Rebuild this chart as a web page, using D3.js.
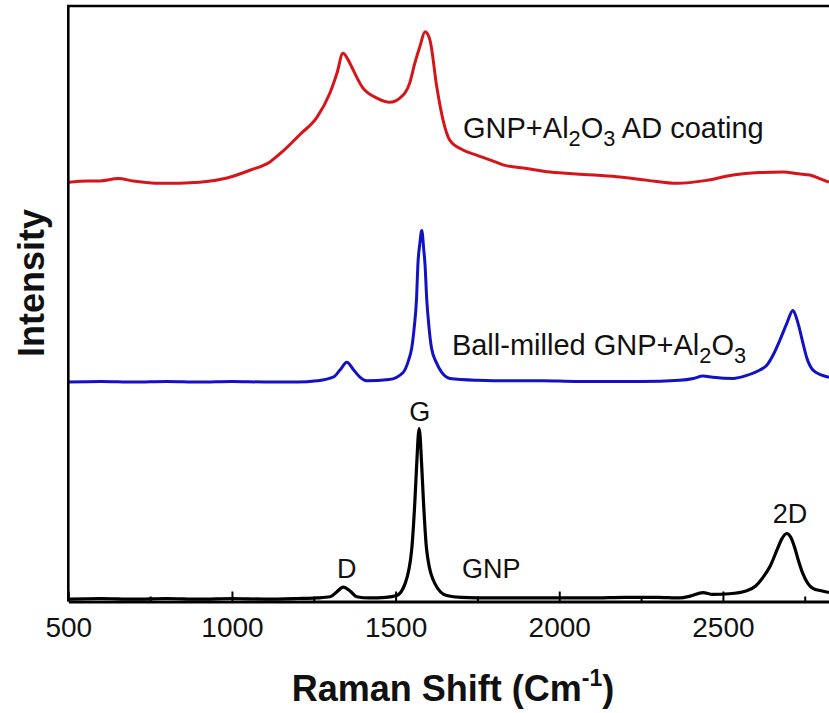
<!DOCTYPE html>
<html><head><meta charset="utf-8">
<script src="https://cdn.jsdelivr.net/npm/d3@7"></script>
<style>body{margin:0;background:#fff}svg{display:block}text{font-family:Arial,"Liberation Sans",sans-serif}</style>
</head><body><svg id="c" width="829" height="713"></svg>
<script>
// ---- data (Raman shift in cm^-1, intensity in arbitrary offset units) ----
const xTicks = [500, 1000, 1500, 2000, 2500];
const xMinorTicks = [750, 1250, 1750, 2250, 2750];

const gnpShift = [500,600,700,800,900,1000,1100,1200,1260,1300,1320,1340,1360,1381,1420,1470,1503,1529,1549,1559,1564,1572,1580,1585,1595,1620,1656,1700,1800,1900,2000,2100,2200,2300,2368,2400,2439,2469,2520,2573,2600,2622,2645,2665,2680,2695,2707,2719,2730,2744,2760,2775,2800,2824];
const gnpInt   = [0.4,0.5,0.4,0.5,0.4,0.5,0.4,0.5,0.6,0.8,1.6,2.4,1.8,0.8,0.6,0.7,1.0,3.0,8.6,16.9,22.5,29.0,22.5,16.9,8.6,3.0,1.0,0.7,0.6,0.6,0.6,0.6,0.7,0.7,0.6,0.9,1.5,1.2,1.3,1.8,2.6,4.0,6.0,8.6,10.5,11.4,10.8,9.1,7.0,4.7,3.0,2.2,1.8,1.5];

const bmShift = [500,600,700,800,900,1000,1100,1200,1260,1309,1330,1351,1372,1391,1412,1480,1523,1540,1549,1557,1564,1568,1574,1580,1586,1590,1595,1602,1610,1625,1641,1666,1750,1850,1950,2050,2150,2250,2368,2410,2439,2469,2531,2573,2613,2634,2655,2674,2695,2714,2725,2735,2746,2756,2775,2800,2824];
const bmInt   = [36.8,36.9,36.8,36.9,36.8,36.9,36.8,36.8,37.0,37.6,38.8,40.1,38.8,37.6,37.0,37.2,38.4,40.5,42.4,46.0,50.8,56.4,60.0,62.2,59.0,56.4,50.8,46.0,42.4,40.0,38.4,37.4,37.1,37.0,37.0,36.9,36.9,36.9,37.1,37.4,37.8,37.6,37.4,37.9,38.8,39.6,41.5,43.8,46.6,48.8,47.5,45.5,43.0,40.9,38.8,38.0,37.6];

const adShift = [500,560,597,652,698,780,902,985,1055,1116,1156,1208,1260,1299,1321,1339,1355,1366,1400,1443,1482,1513,1543,1559,1574,1590,1605,1626,1645,1666,1706,1749,1790,1828,1900,1972,2076,2176,2270,2360,2450,2531,2610,2684,2730,2766,2800,2824];
const adInt   = [70.3,70.5,70.5,70.9,70.5,70.1,70.3,71.0,72.3,73.7,75.5,78.3,81.2,85.2,88.6,91.9,90.8,89.6,86.1,84.4,83.7,84.4,86.9,90.3,93.0,95.5,94.1,86.2,80.7,77.3,75.7,74.8,74.0,73.2,72.6,72.0,71.6,71.2,70.6,70.1,70.6,71.5,71.9,72.0,71.7,71.5,70.8,70.3];

const seriesNames = ["GNP", "Ball-milled GNP+Al2O3", "GNP+Al2O3 AD coating"];
const seriesColors = ["#000000", "#1212c4", "#d6151b"];

(function () {
const svg = d3.select("#c");
const pLeft = 68.3, pTop = 6, pBottom = 601.5;
const pxPerUnit = 0.3273;
const xMax = 2850;
const x = d3.scaleLinear().domain([500, xMax]).range([pLeft, pLeft + (xMax - 500) * pxPerUnit]);
const y = d3.scaleLinear().domain([0, 100]).range([pBottom, 5]);

svg.append("clipPath").attr("id","clip").append("rect")
  .attr("x", pLeft).attr("y", pTop).attr("width", 900).attr("height", pBottom - pTop);

const line = d3.line().x(d => x(d[0])).y(d => y(d[1])).curve(d3.curveMonotoneX);
const series = [
  {shift: gnpShift, inten: gnpInt, w: 3.2},
  {shift: bmShift, inten: bmInt, w: 3},
  {shift: adShift, inten: adInt, w: 3}
];
const g = svg.append("g").attr("clip-path","url(#clip)");
series.forEach((s, i) => {
  g.append("path")
    .datum(d3.zip(s.shift, s.inten))
    .attr("fill","none").attr("stroke", seriesColors[i])
    .attr("stroke-width", s.w).attr("stroke-linejoin","round")
    .attr("d", line);
});

const xr = x(xMax);
svg.append("path").attr("d", `M${xr},${pTop}H${pLeft}V${pBottom}`)
  .attr("fill","none").attr("stroke","#000").attr("stroke-width",2.6);

const xAxis = d3.axisBottom(x).tickValues(xTicks).tickSizeInner(-10).tickSizeOuter(0).tickPadding(20).tickFormat(d3.format("d"));
const ax = svg.append("g").attr("transform", `translate(0,${pBottom})`).call(xAxis);
ax.select(".domain").attr("stroke-width", 3.2);
ax.selectAll(".tick line").attr("stroke-width", 2);
ax.selectAll(".tick text").attr("font-size", 28).attr("font-family","Arial, 'Liberation Sans', sans-serif").attr("fill","#111").attr("dy", "0.55em");
const axm = d3.axisBottom(x).tickValues(xMinorTicks).tickSizeInner(-5).tickSizeOuter(0).tickFormat("");
const am = svg.append("g").attr("transform", `translate(0,${pBottom})`).call(axm);
am.select(".domain").remove();
am.selectAll(".tick line").attr("stroke-width", 2);

// ---- annotations ----
const fs = 29;
function chem(sel, parts) {
  parts.forEach(p => {
    const t = sel.append("tspan").text(p[0]);
    if (p[1] === "sub") t.attr("font-size", fs * 0.75).attr("dy", 8);
    else if (p[1] === "up") t.attr("dy", -8);
  });
}
chem(svg.append("text").attr("x", x(1706)).attr("y", y(77.7)).attr("font-size", fs).attr("fill","#111"),
  [["GNP+Al"],["2","sub"],["O","up"],["3","sub"],[" AD coating","up"]]);
chem(svg.append("text").attr("x", x(1672)).attr("y", y(41.3)).attr("font-size", fs).attr("fill","#111"),
  [["Ball-milled GNP+Al"],["2","sub"],["O","up"],["3","sub"]]);
svg.append("text").attr("x", x(1703)).attr("y", y(4.0)).attr("font-size", 27).attr("fill","#111").text("GNP");
[["D",1351,4.0],["G",1574,30.3],["2D",2705,13.1]].forEach(p => {
  svg.append("text").attr("x", x(p[1])).attr("y", y(p[2])).attr("text-anchor","middle")
    .attr("font-size", 27).attr("fill","#111").text(p[0]);
});

// axis titles
const xt = svg.append("text").attr("x", 453).attr("y", 701).attr("text-anchor","middle")
  .attr("font-size", 36).attr("font-weight","bold").attr("fill","#111");
xt.append("tspan").text("Raman Shift (Cm");
xt.append("tspan").text("-1").attr("font-size", 23).attr("dy", -15);
xt.append("tspan").text(")").attr("dy", 15);

svg.append("text").attr("transform","translate(44,283) rotate(-90)").attr("text-anchor","middle")
  .attr("font-size", 36).attr("font-weight","bold").attr("fill","#111").text("Intensity");
})();
</script></body></html>
